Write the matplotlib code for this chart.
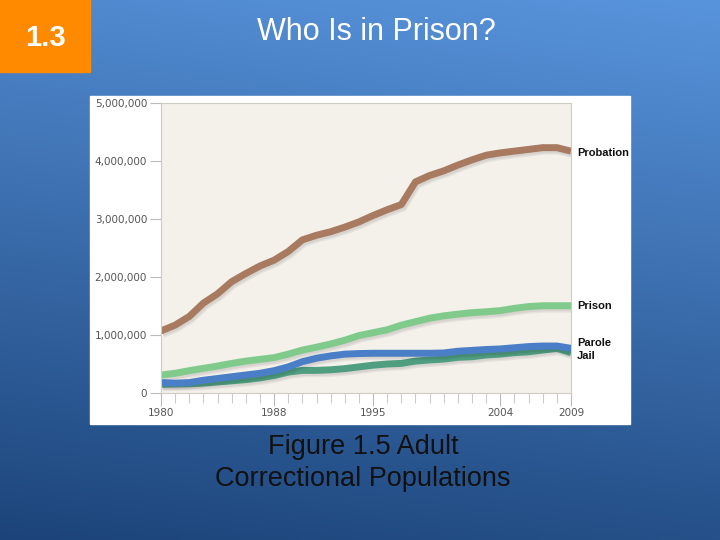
import numpy as np
import matplotlib
import matplotlib.pyplot as plt
import matplotlib.patheffects as pe
from matplotlib.patches import Rectangle
from matplotlib.ticker import FuncFormatter, MultipleLocator

matplotlib.use("Agg")

years = list(range(1980, 2010))

# values (millions of persons)
probation = [1.07, 1.17, 1.32, 1.55, 1.71, 1.92, 2.06, 2.19, 2.29, 2.44,
             2.64, 2.72, 2.78, 2.86, 2.95, 3.06, 3.16, 3.25, 3.64, 3.75,
             3.83, 3.93, 4.02, 4.10, 4.14, 4.17, 4.20, 4.23, 4.23, 4.17]
prison = [0.31, 0.34, 0.385, 0.425, 0.465, 0.51, 0.55, 0.58, 0.61, 0.67,
          0.74, 0.79, 0.845, 0.91, 0.99, 1.04, 1.09, 1.17, 1.23, 1.29,
          1.33, 1.36, 1.385, 1.40, 1.42, 1.46, 1.49, 1.505, 1.505, 1.505]
parole = [0.18, 0.17, 0.18, 0.22, 0.25, 0.28, 0.31, 0.34, 0.385, 0.45,
          0.54, 0.60, 0.64, 0.67, 0.68, 0.685, 0.685, 0.685, 0.685, 0.685,
          0.69, 0.72, 0.735, 0.75, 0.76, 0.78, 0.80, 0.81, 0.81, 0.77]
jail = [0.15, 0.155, 0.16, 0.17, 0.19, 0.21, 0.23, 0.26, 0.30, 0.36,
        0.39, 0.39, 0.40, 0.42, 0.45, 0.48, 0.50, 0.51, 0.55, 0.57,
        0.585, 0.615, 0.625, 0.655, 0.67, 0.695, 0.71, 0.74, 0.77, 0.695]

# name, values, colour, label nudge (points)
series = [("Probation", probation, "#a87a60", -1.5),
          ("Prison", prison, "#80cb8c", 0),
          ("Jail", jail, "#4f9e80", -2.5),
          ("Parole", parole, "#4a7ec6", 3.5)]

year_labels = [1980, 1988, 1995, 2004, 2009]

fig = plt.figure(figsize=(7.2, 5.4), dpi=100)

# slide background gradient
bg = fig.add_axes([0, 0, 1, 1], zorder=-10)
yy, xx = np.mgrid[0:1:200j, 0:1:200j]
t = np.clip(0.85 * yy + 0.15 * (1 - xx), 0, 1)
top = np.array([88, 148, 220]) / 255
bot = np.array([28, 68, 122]) / 255
img = top[None, None, :] * (1 - t[..., None]) + bot[None, None, :] * t[..., None]
bg.imshow(img, extent=[0, 1, 0, 1], aspect="auto", origin="upper")
bg.axis("off")

# orange number box and white frame
fig.add_artist(Rectangle((0, 1 - 72 / 540), 90 / 720, 72 / 540,
                         transform=fig.transFigure, color="#ff8a00", zorder=-5))
fig.add_artist(Rectangle((90 / 720, 1 - 424 / 540), 540 / 720, 328 / 540,
                         transform=fig.transFigure, color="white", zorder=-5))

fig.text(45 / 720, 1 - 38 / 540, "1.3", color="white", fontsize=21,
         fontweight="bold", family="Liberation Sans", ha="center", va="center")
fig.text(376 / 720, 1 - 32 / 540, "Who Is in Prison?", color="white",
         fontsize=22, family="Liberation Sans", ha="center", va="center")
fig.text(363 / 720, 1 - 463 / 540, "Figure 1.5 Adult\nCorrectional Populations",
         color="#111111", fontsize=19.5, family="Liberation Sans",
         ha="center", va="center", linespacing=1.3)

ax = fig.add_axes([161 / 720, 1 - 393 / 540, 410 / 720, 290 / 540])
ax.set_facecolor("#f4f0ea")

shadow = [pe.SimpleLineShadow(offset=(1.5, -2.5), shadow_color="k", alpha=0.06),
          pe.SimpleLineShadow(offset=(1, -1.5), shadow_color="k", alpha=0.06),
          pe.Normal()]

for name, vals, color, dy in series:
    v = np.array(vals) * 1e6
    ax.plot(years, v, color=color, lw=5, solid_capstyle="butt", path_effects=shadow)
    ax.annotate(name, xy=(1, v[-1]), xycoords=("axes fraction", "data"),
                xytext=(4.5, dy), textcoords="offset points", va="center",
                ha="left", fontsize=8, fontweight="bold", family="Liberation Sans",
                color="#111111", annotation_clip=False)

ax.set_xlim(1980, 2009)
ax.set_ylim(0, 5e6)
ax.set_yticks(np.arange(0, 5.01e6, 1e6))
ax.yaxis.set_major_formatter(FuncFormatter(lambda v, p: f"{int(v):,}"))
ax.set_xticks(year_labels)
ax.xaxis.set_minor_locator(MultipleLocator(1))

for s in ax.spines.values():
    s.set_color("#cfcbc5")
    s.set_linewidth(0.8)

ax.tick_params(axis="y", length=8, width=0.8, color="#bbbbbb", pad=2,
               labelsize=7.5, labelcolor="#555555")
ax.tick_params(axis="x", which="major", length=9, width=0.8, color="#bbbbbb",
               pad=2, labelsize=7.5, labelcolor="#555555")
ax.tick_params(axis="x", which="minor", length=7, width=0.8, color="#cccccc")

fig.savefig("out.png", dpi=100)
